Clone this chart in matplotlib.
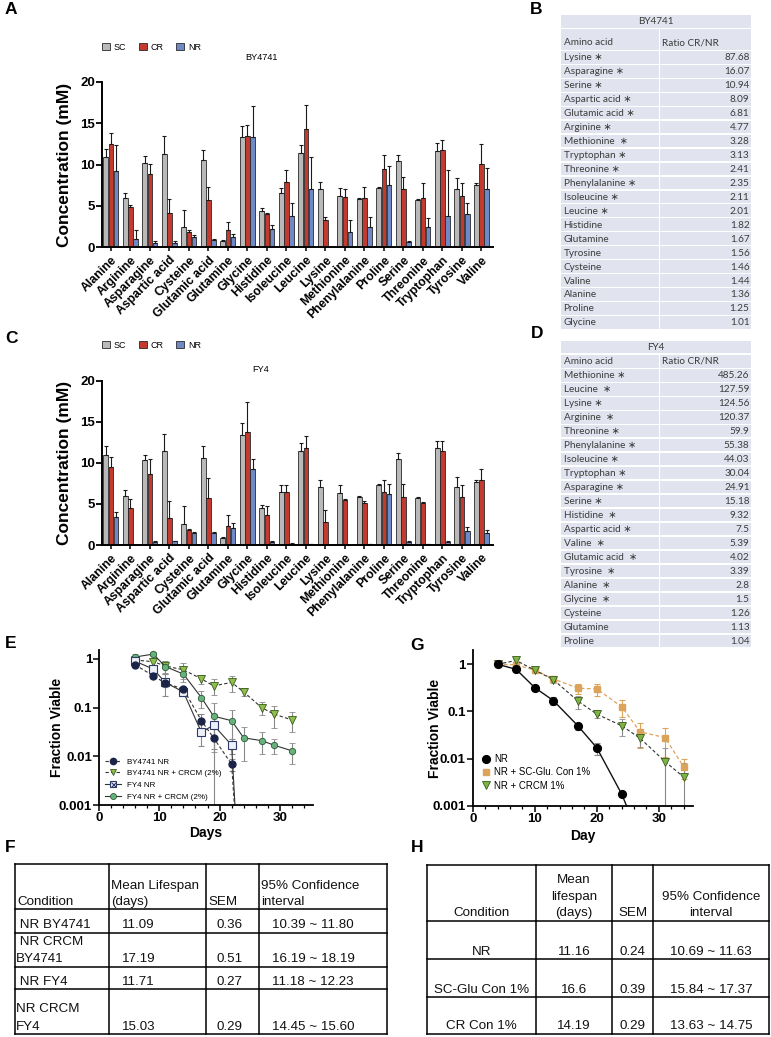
import matplotlib
matplotlib.use("Agg")
import matplotlib.pyplot as plt
from matplotlib.patches import Rectangle
from matplotlib.lines import Line2D
from matplotlib.legend_handler import HandlerTuple
from matplotlib.ticker import MultipleLocator, NullLocator
import numpy as np

W, H = 771, 1037
plt.rcParams['font.family'] = ['Liberation Sans', 'DejaVu Sans']

# ---------------- data ----------------
amino_acids = ["Alanine", "Arginine", "Asparagine", "Aspartic acid", "Cysteine",
               "Glutamic acid", "Glutamine", "Glycine", "Histidine", "Isoleucine",
               "Leucine", "Lysine", "Methionine", "Phenylalanine", "Proline",
               "Serine", "Threonine", "Tryptophan", "Tyrosine", "Valine"]
conditions = ["SC", "CR", "NR"]

by_sc = [10.9, 5.9, 10.2, 11.3, 2.4, 10.5, 0.8, 13.3, 4.4, 6.5, 11.4, 7.1, 6.2, 5.8, 7.2, 10.4, 5.7, 11.6, 7.1, 7.5]
by_cr = [12.5, 4.9, 8.9, 4.2, 1.8, 5.7, 2.1, 13.4, 4.0, 7.9, 14.3, 3.3, 6.1, 5.9, 9.4, 7.0, 6.0, 11.7, 6.2, 10.1]
by_nr = [9.2, 1.0, 0.55, 0.52, 1.23, 0.84, 1.26, 13.3, 2.2, 3.75, 7.1, 0.04, 1.86, 2.5, 7.5, 0.64, 2.49, 3.74, 3.97, 7.0]
by_sc_sd = [1.0, 0.7, 0.8, 2.1, 2.1, 1.2, 0.1, 1.4, 0.4, 0.7, 0.9, 0.8, 1.0, 0.1, 0.1, 0.7, 0.1, 1.0, 1.3, 0.3]
by_cr_sd = [1.3, 0.15, 1.2, 1.6, 0.3, 1.6, 0.9, 1.4, 0.2, 1.4, 2.9, 0.4, 0.9, 1.4, 1.7, 1.5, 1.8, 1.2, 1.6, 2.4]
by_nr_sd = [3.1, 1.1, 0.2, 0.2, 0.3, 0.2, 0.4, 3.8, 0.5, 1.6, 3.8, 0.05, 1.4, 1.1, 2.3, 0.1, 1.1, 5.6, 1.4, 2.6]

fy_sc = [11.0, 6.0, 10.3, 11.4, 2.5, 10.6, 0.8, 13.4, 4.45, 6.5, 11.4, 7.1, 6.3, 5.9, 7.3, 10.5, 5.7, 11.8, 7.1, 7.7]
fy_cr = [9.5, 4.5, 8.6, 3.3, 1.8, 5.7, 2.35, 13.8, 3.65, 6.4, 11.8, 2.8, 5.5, 5.15, 6.4, 5.8, 5.1, 11.4, 5.9, 7.9]
fy_nr = [3.4, 0.04, 0.35, 0.44, 1.43, 1.42, 2.08, 9.2, 0.39, 0.15, 0.09, 0.02, 0.011, 0.093, 6.2, 0.38, 0.085, 0.38, 1.74, 1.47]
fy_sc_sd = [1.0, 0.7, 0.7, 2.1, 2.2, 1.4, 0.2, 1.4, 0.45, 0.8, 1.0, 0.8, 1.0, 0.1, 0.1, 0.7, 0.1, 0.9, 1.2, 0.2]
fy_cr_sd = [1.2, 1.1, 1.9, 2.0, 0.2, 2.4, 1.3, 3.6, 1.05, 0.9, 1.5, 1.5, 0.1, 0.15, 1.5, 1.6, 0.1, 1.3, 1.4, 1.3]
fy_nr_sd = [0.65, 0.02, 0.1, 0.1, 0.2, 0.2, 0.6, 1.3, 0.1, 0.05, 0.05, 0.02, 0.01, 0.03, 1.2, 0.1, 0.03, 0.1, 0.5, 0.3]

b_names = ["Lysine ∗", "Asparagine ∗", "Serine ∗", "Aspartic acid ∗", "Glutamic acid ∗",
           "Arginine ∗", "Methionine  ∗", "Tryptophan ∗", "Threonine ∗", "Phenylalanine ∗",
           "Isoleucine ∗", "Leucine ∗", "Histidine", "Glutamine", "Tyrosine", "Cysteine",
           "Valine", "Alanine", "Proline", "Glycine"]
b_ratios = ["87.68", "16.07", "10.94", "8.09", "6.81", "4.77", "3.28", "3.13", "2.41", "2.35",
            "2.11", "2.01", "1.82", "1.67", "1.56", "1.46", "1.44", "1.36", "1.25", "1.01"]
d_names = ["Methionine ∗", "Leucine  ∗", "Lysine ∗", "Arginine  ∗", "Threonine ∗",
           "Phenylalanine ∗", "Isoleucine ∗", "Tryptophan ∗", "Asparagine ∗", "Serine ∗",
           "Histidine  ∗", "Aspartic acid ∗", "Valine  ∗", "Glutamic acid  ∗", "Tyrosine  ∗",
           "Alanine  ∗", "Glycine  ∗", "Cysteine", "Glutamine", "Proline"]
d_ratios = ["485.26", "127.59", "124.56", "120.37", "59.9", "55.38", "44.03", "30.04", "24.91",
            "15.18", "9.32", "7.5", "5.39", "4.02", "3.39", "2.8", "1.5", "1.26", "1.13", "1.04"]

# panel E survival
e_days_by_nr = [6, 9, 11, 14, 17, 19, 22, 23]
e_by_nr = [0.76, 0.45, 0.32, 0.24, 0.054, 0.024, 0.0069, 0.0001]
e_by_nr_err = [0.05, 0.04, 0.05, 0.03, 0.02, 0.03, 0.002, 0]
e_days_by_cr = [6, 9, 11, 14, 17, 19, 22, 24, 27, 29, 32]
e_by_cr = [0.95, 0.88, 0.72, 0.6, 0.39, 0.28, 0.33, 0.21, 0.1, 0.074, 0.056]
e_by_cr_err = [0.1, 0.15, 0.2, 0.22, 0.08, 0.1, 0.12, 0.04, 0.03, 0.035, 0.025]
e_days_fy_nr = [6, 9, 11, 14, 17, 19, 22, 23]
e_fy_nr = [0.9, 0.62, 0.33, 0.21, 0.031, 0.044, 0.017, 0.0001]
e_fy_nr_err = [0.05, 0.1, 0.16, 0.04, 0.015, 0.03, 0.006, 0]
e_days_fy_cr = [6, 9, 11, 14, 17, 19, 22, 24, 27, 29, 32]
e_fy_cr = [1.1, 1.26, 0.7, 0.49, 0.16, 0.067, 0.054, 0.024, 0.021, 0.017, 0.013]
e_fy_cr_err = [0.15, 0.1, 0.2, 0.15, 0.06, 0.055, 0.035, 0.016, 0.01, 0.006, 0.006]
e_labels = ["BY4741 NR", "BY4741 NR + CRCM (2%)", "FY4 NR", "FY4 NR + CRCM (2%)"]

# panel G survival
g_days_nr = [4, 7, 10, 13, 17, 20, 24, 27]
g_nr = [1.0, 0.78, 0.32, 0.17, 0.049, 0.017, 0.0018, 0.0002]
g_nr_err = [0.05, 0.1, 0.05, 0.035, 0.008, 0.005, 0.0002, 0]
g_days_sc = [4, 7, 10, 13, 17, 20, 24, 27, 31, 34]
g_sc = [1.0, 0.97, 0.75, 0.49, 0.31, 0.30, 0.126, 0.037, 0.028, 0.0067]
g_sc_err = [0.05, 0.05, 0.06, 0.05, 0.07, 0.09, 0.05, 0.02, 0.017, 0.003]
g_days_cr = [4, 7, 10, 13, 17, 20, 24, 27, 31, 34]
g_cr = [1.0, 1.2, 0.75, 0.47, 0.165, 0.088, 0.05, 0.027, 0.0087, 0.0041]
g_cr_err = [0.05, 0.1, 0.06, 0.06, 0.05, 0.015, 0.02, 0.009, 0.008, 0.004]
g_labels = ["NR", "NR + SC-Glu. Con 1%", "NR + CRCM 1%"]

# tables F and H
f_header = ["Condition", "Mean Lifespan\n(days)", "SEM", "95% Confidence\ninterval"]
f_conditions = [" NR BY4741", " NR CRCM\nBY4741", " NR FY4", "NR CRCM\nFY4"]
f_mean = ["11.09", "17.19", "11.71", "15.03"]
f_sem = ["0.36", "0.51", "0.27", "0.29"]
f_ci = ["10.39 ~ 11.80", "16.19 ~ 18.19", "11.18 ~ 12.23", "14.45 ~ 15.60"]

h_header = ["Condition", "Mean\nlifespan\n(days)", "SEM", "95% Confidence\ninterval"]
h_conditions = ["NR", "SC-Glu Con 1%", "CR Con 1%"]
h_mean = ["11.16", "16.6", "14.19"]
h_sem = ["0.24", "0.39", "0.29"]
h_ci = ["10.69 ~ 11.63", "15.84 ~ 17.37", "13.63 ~ 14.75"]

# ---------------- figure ----------------
fig = plt.figure(figsize=(W / 100, H / 100), dpi=100)


def rect(l, t, r, b):
    return [l / W, 1 - b / H, (r - l) / W, (b - t) / H]


def fx(x):
    return x / W


def fy(y):
    return 1 - y / H


bg = fig.add_axes([0, 0, 1, 1])
bg.set_xlim(0, W)
bg.set_ylim(H, 0)
bg.axis('off')

SC_C, CR_C, NR_C = '#b9b9b9', '#c23b2e', '#6f88c8'


def bar_panel(box, sc, cr, nr, sc_sd, cr_sd, nr_sd, title, title_y, legend_y):
    ax = fig.add_axes(rect(*box))
    x = np.arange(len(amino_acids))
    w = 0.25
    for off, vals, sds, col in [(-0.26, sc, sc_sd, SC_C), (0.0, cr, cr_sd, CR_C), (0.26, nr, nr_sd, NR_C)]:
        ax.bar(x + off, vals, w, color=col, edgecolor='#2a2a2a', linewidth=0.6,
               yerr=[np.zeros(len(vals)), sds],
               error_kw=dict(ecolor='#1a1a1a', elinewidth=0.8, capsize=1.4, capthick=0.8))
    ax.set_xlim(-0.46, 19.59)
    ax.set_ylim(0, 20)
    ax.set_xticks(x)
    ax.set_xticklabels(amino_acids, rotation=45, ha='right', rotation_mode='anchor',
                       fontsize=8.8, fontweight='bold')
    ax.set_yticks([0, 5, 10, 15, 20])
    ax.set_yticklabels(['0', '5', '10', '15', '20'], fontsize=9.5, fontweight='bold')
    ax.tick_params(axis='x', length=3, width=1.1, pad=2)
    ax.tick_params(axis='y', length=4, width=1.3, pad=1)
    for s in ['top', 'right']:
        ax.spines[s].set_visible(False)
    for s in ['left', 'bottom']:
        ax.spines[s].set_linewidth(1.4)
    ax.set_ylabel("Concentration (mM)", fontsize=12.5, fontweight='bold')
    ax.yaxis.set_label_coords(-0.077, 0.5)
    fig.text(fx(261), fy(title_y), title, fontsize=6.6, ha='center', va='center')
    handles = [Rectangle((0, 0), 1, 1, fc=c, ec='#2a2a2a', lw=0.6) for c in (SC_C, CR_C, NR_C)]
    fig.legend(handles, conditions, loc='center left', bbox_to_anchor=(fx(102), fy(legend_y)),
               bbox_transform=fig.transFigure, ncol=3, fontsize=6.5, frameon=False,
               handlelength=0.9, handleheight=0.9, handletextpad=0.4, columnspacing=1.4,
               borderpad=0, borderaxespad=0)
    return ax


bar_panel((102, 81.7, 493, 247.3), by_sc, by_cr, by_nr, by_sc_sd, by_cr_sd, by_nr_sd, "BY4741", 58, 47.3)
bar_panel((102, 380.7, 493, 545), fy_sc, fy_cr, fy_nr, fy_sc_sd, fy_cr_sd, fy_nr_sd, "FY4", 370, 345)

# ---------------- ratio tables ----------------
TB = '#e1e4ef'
tfont = dict(family=['Lato', 'DejaVu Sans'], fontsize=7.2, color='#3c3c3c')


def ratio_table(title, names, ratios, htop, hbot, ctop, cbot, ctext, r0, rh):
    x0, x1, x2 = 561, 659.5, 751
    g = 0.7
    bg.add_patch(Rectangle((x0, htop), x2 - x0, hbot - htop, fc=TB, ec='none'))
    bg.text((x0 + x2) / 2, (htop + hbot) / 2 + 0.5, title, ha='center', va='center', **tfont)
    bg.add_patch(Rectangle((x0, ctop), x1 - x0 - g, cbot - ctop, fc=TB, ec='none'))
    bg.add_patch(Rectangle((x1 + g, ctop), x2 - x1 - g, cbot - ctop, fc=TB, ec='none'))
    bg.text(x0 + 2.5, ctext, "Amino acid", ha='left', va='center', **tfont)
    bg.text(x1 + 2.5, ctext, "Ratio CR/NR", ha='left', va='center', **tfont)
    for i, (n, r) in enumerate(zip(names, ratios)):
        t = r0 + rh * i
        hh = rh - 1.3
        bg.add_patch(Rectangle((x0, t), x1 - x0 - g, hh, fc=TB, ec='none'))
        bg.add_patch(Rectangle((x1 + g, t), x2 - x1 - g, hh, fc=TB, ec='none'))
        bg.text(x0 + 2.5, t + hh / 2 + 0.5, n, ha='left', va='center', **tfont)
        bg.text(x2 - 1.5, t + hh / 2 + 0.5, r, ha='right', va='center', **tfont)


ratio_table("BY4741", b_names, b_ratios, 15, 27.8, 29.3, 49.7, 42.5, 51.0, 13.95)
ratio_table("FY4", d_names, d_ratios, 341, 353, 354.5, 367.7, 361.5, 368.9, 13.98)

# ---------------- survival panels ----------------
def style_surv(ax, ymax):
    ax.set_yscale('log')
    ax.set_xlim(0, 35.5)
    ax.set_ylim(0.001, ymax)
    ax.set_yticks([0.001, 0.01, 0.1, 1])
    ax.set_yticklabels(['0.001', '0.01', '0.1', '1'], fontsize=9.5, fontweight='bold')
    ax.yaxis.set_minor_locator(NullLocator())
    ax.set_xticks([0, 10, 20, 30])
    ax.set_xticklabels(['0', '10', '20', '30'], fontsize=9.5, fontweight='bold')
    ax.xaxis.set_minor_locator(MultipleLocator(2))
    ax.tick_params(axis='both', which='major', length=4, width=1.1, pad=1)
    ax.tick_params(axis='x', which='minor', length=2.5, width=0.9)
    for s in ['top', 'right']:
        ax.spines[s].set_visible(False)
    for s in ['left', 'bottom']:
        ax.spines[s].set_linewidth(1.3)


def curve(ax, d, v, e, **kw):
    ax.errorbar(d, v, yerr=e, elinewidth=0.8, capsize=2.4, capthick=0.8, **kw)


axE = fig.add_axes(rect(99, 650, 313, 805))
style_surv(axE, 1.53)
NAVY = '#1b2447'
GTRI = '#8dbf4a'
GCIR = '#66b27a'
LINE = '#333333'
curve(axE, e_days_by_cr, e_by_cr, e_by_cr_err, color=LINE, ls=(0, (3, 2)), lw=0.8, marker='v',
      ms=5.5, mfc=GTRI, mec='#3a5a20', mew=0.6, ecolor='#8a8a8a')
curve(axE, e_days_fy_cr, e_fy_cr, e_fy_cr_err, color=LINE, ls='-', lw=0.8, marker='o',
      ms=4.6, mfc=GCIR, mec='#2d5a38', mew=0.6, ecolor='#8a8a8a')
curve(axE, e_days_fy_nr, e_fy_nr, e_fy_nr_err, color=LINE, ls='-', lw=0.8, marker='s',
      ms=5.2, mfc='#eef0f8', mec='#2c3a6b', mew=0.8, ecolor='#8a8a8a')
axE.plot(e_days_fy_nr, e_fy_nr, ls='none', marker='x', ms=4.0, mec='#2c3a6b', mew=0.8)
curve(axE, e_days_by_nr, e_by_nr, e_by_nr_err, color=LINE, ls=(0, (3, 2)), lw=0.8, marker='o',
      ms=5.0, mfc=NAVY, mec=NAVY, ecolor='#8a8a8a')
hE = [Line2D([], [], color=LINE, ls=(0, (3, 2)), lw=0.8, marker='o', ms=4.5, mfc=NAVY, mec=NAVY),
      Line2D([], [], color=LINE, ls=(0, (3, 2)), lw=0.8, marker='v', ms=5, mfc=GTRI, mec='#3a5a20', mew=0.6),
      (Line2D([], [], color=LINE, ls='-', lw=0.8, marker='s', ms=4.8, mfc='#eef0f8', mec='#2c3a6b', mew=0.8),
       Line2D([], [], ls='none', marker='x', ms=3.6, mec='#2c3a6b', mew=0.8)),
      Line2D([], [], color=LINE, ls='-', lw=0.8, marker='o', ms=4.3, mfc=GCIR, mec='#2d5a38', mew=0.6)]
axE.legend(hE, e_labels, loc='upper left', bbox_to_anchor=(fx(105), fy(758)),
           bbox_transform=fig.transFigure, fontsize=5.8, frameon=False, handlelength=2.0,
           handletextpad=0.7, labelspacing=0.5, borderpad=0, borderaxespad=0,
           handler_map={tuple: HandlerTuple(ndivide=1, pad=0)})
fig.text(fx(57), fy(727), "Fraction Viable", rotation=90, ha='center', va='center',
         fontsize=10, fontweight='bold')
fig.text(fx(206), fy(833), "Days", ha='center', va='center', fontsize=10, fontweight='bold')

axG = fig.add_axes(rect(472.7, 650, 693, 806))
style_surv(axG, 2.0)
ORANGE = '#dca35a'
curve(axG, g_days_sc, g_sc, g_sc_err, color=ORANGE, ls=(0, (3, 2)), lw=0.9, marker='s',
      ms=5.0, mfc=ORANGE, mec=ORANGE, ecolor=ORANGE)
curve(axG, g_days_cr, g_cr, g_cr_err, color=LINE, ls=(0, (3, 2)), lw=0.8, marker='v',
      ms=6.0, mfc='#7db443', mec='#3a5a20', mew=0.6, ecolor='#8a8a8a')
curve(axG, g_days_nr, g_nr, g_nr_err, color='#111111', ls='-', lw=1.0, marker='o',
      ms=5.6, mfc='#000000', mec='#000000', ecolor='#8a8a8a')
hG = [Line2D([], [], ls='none', marker='o', ms=5.6, mfc='#000000', mec='#000000'),
      Line2D([], [], ls='none', marker='s', ms=5.0, mfc=ORANGE, mec=ORANGE),
      Line2D([], [], ls='none', marker='v', ms=6.0, mfc='#7db443', mec='#3a5a20', mew=0.6)]
axG.legend(hG, g_labels, loc='upper left', bbox_to_anchor=(fx(482), fy(754)),
           bbox_transform=fig.transFigure, fontsize=6.9, frameon=False, handlelength=0.8,
           handletextpad=0.5, labelspacing=0.35, borderpad=0, borderaxespad=0)
fig.text(fx(435), fy(728), "Fraction Viable", rotation=90, ha='center', va='center',
         fontsize=10, fontweight='bold')
fig.text(fx(583), fy(836), "Day", ha='center', va='center', fontsize=10, fontweight='bold')

# ---------------- lifespan tables ----------------
LW = 1.1
TF = dict(fontsize=9.6, color='#111111')


def grid(xs, ys):
    for x in xs:
        bg.plot([x, x], [ys[0], ys[-1]], color='black', lw=LW, solid_capstyle='projecting')
    for y in ys:
        bg.plot([xs[0], xs[-1]], [y, y], color='black', lw=LW, solid_capstyle='projecting')


# F
fxs = [15, 109.3, 206, 259, 387]
fys = [864, 909.3, 932.7, 966.7, 989.3, 1034]
grid(fxs, fys)
hx = [17, 111, 208, 261]
for x, t in zip(hx, f_header):
    lines = t.split("\n")
    for k, ln in enumerate(reversed(lines)):
        bg.text(x, 902 - 16 * k, ln, ha='left', va='center', **TF)
for i in range(len(f_conditions)):
    yb = fys[i + 2] - 7.5
    lines = f_conditions[i].split("\n")
    for k, ln in enumerate(reversed(lines)):
        bg.text(16, yb - 17 * k, ln, ha='left', va='center', **TF)
    bg.text(121.7, yb, f_mean[i], ha='left', va='center', **TF)
    bg.text(216.7, yb, f_sem[i], ha='left', va='center', **TF)
    bg.text(271.7, yb, f_ci[i], ha='left', va='center', **TF)

# H
hxs = [427, 535.7, 612.3, 653.3, 769]
hys = [865, 921, 959.3, 997.3, 1034]
grid(hxs, hys)
for j, t in enumerate(h_header):
    cx = (hxs[j] + hxs[j + 1]) / 2
    lines = t.split("\n")
    for k, ln in enumerate(reversed(lines)):
        bg.text(cx, 913.3 - 16.5 * k, ln, ha='center', va='center', **TF)
for i in range(len(h_conditions)):
    yb = hys[i + 2] - 7.7
    for j, val in enumerate([h_conditions[i], h_mean[i], h_sem[i], h_ci[i]]):
        cx = (hxs[j] + hxs[j + 1]) / 2
        bg.text(cx, yb, val, ha='center', va='center', **TF)

# ---------------- panel letters ----------------
for lab, x, y in [("A", 11, 10), ("B", 536, 9), ("C", 11, 338), ("D", 537, 333),
                  ("E", 11, 643), ("G", 417, 646), ("F", 10, 847), ("H", 417, 848)]:
    fig.text(fx(x), fy(y), lab, ha='center', va='center', fontsize=12.5, fontweight='bold')

fig.savefig("out.png", dpi=100)
